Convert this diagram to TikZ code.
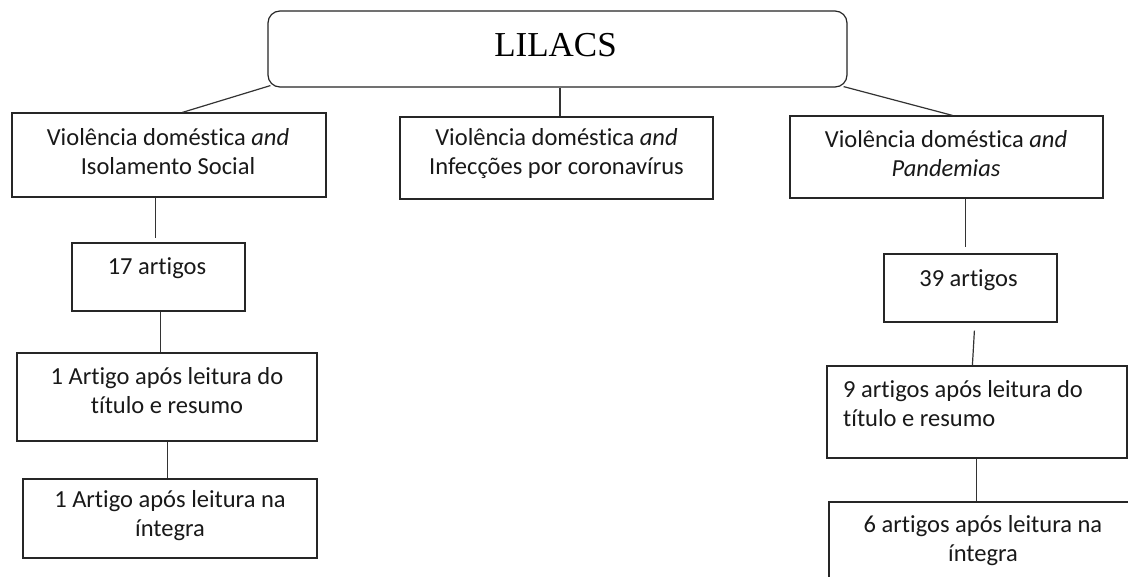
\documentclass[tikz,border=0pt]{standalone}
\usepackage{fontspec}
\setmainfont{Carlito}[Ligatures=NoCommon]
\newfontfamily\lilfont{Liberation Serif}
\usetikzlibrary{calc}
\begin{document}
\begin{tikzpicture}[x=1pt,y=-1pt,
  box/.style={draw=black!85, line width=1.2pt, inner sep=0pt, rectangle},
  txt/.style={font=\fontsize{24.5}{29}\selectfont, inner sep=0pt, align=center, text=black!90},
  conn/.style={draw=black!80, line width=1.2pt}]
\useasboundingbox (0,0) rectangle (1128,577);
\fill[white] (0,0) rectangle (1128,577);
\begin{scope}
\clip (0,0) rectangle (1128,577);
% boxes
\node[box, rounded corners=12pt, minimum width=579pt, minimum height=76pt] (lil) at (557.5,49) {};
\node[box, minimum width=314pt, minimum height=84pt] (v1) at (169,155) {};
\node[box, minimum width=313pt, minimum height=82pt] (v2) at (556.5,158) {};
\node[box, minimum width=313pt, minimum height=82pt] (v3) at (946.5,157) {};
\node[box, minimum width=173pt, minimum height=68pt] (a17) at (158.5,277) {};
\node[box, minimum width=300pt, minimum height=88pt] (a1) at (167,397) {};
\node[box, minimum width=294pt, minimum height=79pt] (a1i) at (170,518.5) {};
\node[box, minimum width=173pt, minimum height=68pt] (a39) at (970.5,288) {};
\node[box, minimum width=300pt, minimum height=92pt] (a9) at (977,412) {};
\node[box, minimum width=308pt, minimum height=98pt] (a6) at (983,551) {};
% texts
\node[inner sep=0pt, font=\lilfont\fontsize{35}{38}\selectfont, text=black] (lilt) at (555.5,45) {LILACS};
\node[txt] (v1t) at (168,151.5) {Violência doméstica \textit{and}\\Isolamento Social};
\node[txt] (v2t) at (556.5,154) {Violência doméstica \textit{and}\\Infecções por coronavírus};
\node[txt] (v3t) at (946,153.5) {Violência doméstica \textit{and}\\\textit{Pandemias}};
\node[txt] (a17t) at (157,268) {17 artigos};
\node[txt] (a1t) at (167,390.5) {1 Artigo após leitura do\\título e resumo};
\node[txt] (a1it) at (170,515.5) {1 Artigo após leitura na\\íntegra};
\node[txt] (a39t) at (968.5,280) {39 artigos};
\node[txt, align=left, anchor=west] (a9t) at (843,403.5) {9 artigos após leitura do\\título e resumo};
\node[txt] (a6t) at (983,540.5) {6 artigos após leitura na\\íntegra};
% connectors
\draw[conn] ($(lil.south west)+(3,-2)$) -- ($(v1.north west)+(171,0)$);
\draw[conn] ($(v2.north)+(3.5,0)$) -- ($(lil.south)+(2.5,0)$);
\draw[conn] ($(lil.south east)+(-4,-1)$) -- ($(v3.north west)+(163,0)$);
\draw[conn] ($(v1.south west)+(144,0)$) -- ($(a17.north west)+(84,-4)$);
\draw[conn] ($(a17.south west)+(89,0)$) -- ($(a1.north west)+(144,0)$);
\draw[conn] ($(a1.south west)+(151,0)$) -- ($(a1i.north west)+(145,0)$);
\draw[conn] ($(v3.south west)+(176,0)$) -- ($(a39.north west)+(82,-6)$);
\draw[conn] ($(a39.south west)+(91,8)$) -- ($(a9.north west)+(146,0)$);
\draw[conn] ($(a9.south west)+(150,0)$) -- ($(a6.north west)+(148,0)$);
\end{scope}
\end{tikzpicture}
\end{document}
